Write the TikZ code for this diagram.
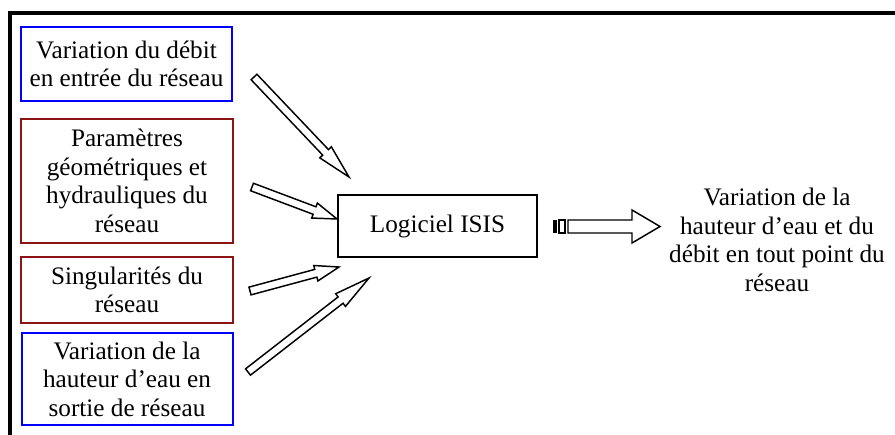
\documentclass[tikz,border=0pt]{standalone}
\usepackage{fontspec}
\setmainfont{Liberation Serif}
\usetikzlibrary{calc}
\definecolor{boxblue}{RGB}{0,0,255}
\definecolor{boxred}{RGB}{140,20,20}
\tikzset{
  x=0.75pt, y=-0.75pt,
  txt/.style={font=\fontsize{18.9pt}{21.4pt}\selectfont, align=center, inner sep=0pt},
  inbox/.style={txt, draw, line width=1.5pt, minimum width=#1},
  arrowline/.style={draw=black, fill=white, line width=1.1pt, line join=miter},
  frameline/.style={line width=2.3pt, line join=miter}
}
% #1 tail, #2 tip, #3 half shaft, #4 half head, #5 head length
\newcommand{\hollowarrow}[5]{%
  \coordinate (#1h) at ($(#2)!#5!(#1)$);
  \draw[arrowline] ($(#1)!#3!90:(#2)$) -- ($(#1h)!#3!90:(#2)$) -- ($(#1h)!#4!90:(#2)$)
    -- (#2) -- ($(#1h)!#4!-90:(#2)$) -- ($(#1h)!#3!-90:(#2)$) -- ($(#1)!#3!-90:(#2)$) -- cycle;
}
\begin{document}
\begin{tikzpicture}
\useasboundingbox (0,0) rectangle (895,435);
% frame
\coordinate (fbl) at (10,440);
\coordinate (ftl) at (10,13);
\coordinate (ftr) at (900,13);
\draw[frameline] (fbl) -- (ftl) -- (ftr);

% input boxes
\node[inbox=158.25pt, draw=boxblue, minimum height=55.5pt] (b1) at (126.5,64)
  {Variation du débit\\en entrée du réseau};
\node[inbox=159pt, draw=boxred, minimum height=93pt] (b2) at (127,181)
  {Paramètres\\géométriques et\\hydrauliques du\\réseau};
\node[inbox=159pt, draw=boxred, minimum height=49.5pt] (b3) at (127,290)
  {Singularités du\\réseau};
\node[inbox=158.25pt, draw=boxblue, minimum height=69pt] (b4) at (127,379)
  {Variation de la\\hauteur d’eau en\\sortie de réseau};

% central box
\node[inbox=149.25pt, draw=black, line width=1.1pt, minimum height=46.5pt] (isis) at (437.5,226)
  {Logiciel ISIS};

% output text
\node[txt] (out) at (777,240)
  {Variation de la\\hauteur d’eau et du\\débit en tout point du\\réseau};

% input arrows
\coordinate (t1) at (254,77);  \coordinate (p1) at (349,177);
\coordinate (t2) at (252,187); \coordinate (p2) at (337,219);
\coordinate (t3) at (250,291); \coordinate (p3) at (339,267);
\coordinate (t4) at (248,372); \coordinate (p4) at (369,278);
\hollowarrow{t1}{p1}{3pt}{6pt}{25.5pt}
\hollowarrow{t2}{p2}{3pt}{6pt}{18pt}
\hollowarrow{t3}{p3}{3pt}{6pt}{18pt}
\hollowarrow{t4}{p4}{3pt}{6pt}{27pt}

% output striped arrow
\coordinate (s1a) at (553,220); \coordinate (s1b) at (557,233);
\coordinate (s2a) at (559,220); \coordinate (s2b) at (565,233);
\fill[black] (s1a) rectangle (s1b);
\draw[line width=1.1pt] (s2a) rectangle (s2b);
\coordinate (os1) at (568,220); \coordinate (os2) at (632,220);
\coordinate (oh1) at (632,210); \coordinate (otip) at (660,226.5);
\coordinate (oh2) at (632,243); \coordinate (os3) at (632,233);
\coordinate (os4) at (568,233);
\draw[arrowline] (os1) -- (os2) -- (oh1) -- (otip) -- (oh2) -- (os3) -- (os4) -- cycle;
\end{tikzpicture}
\end{document}
